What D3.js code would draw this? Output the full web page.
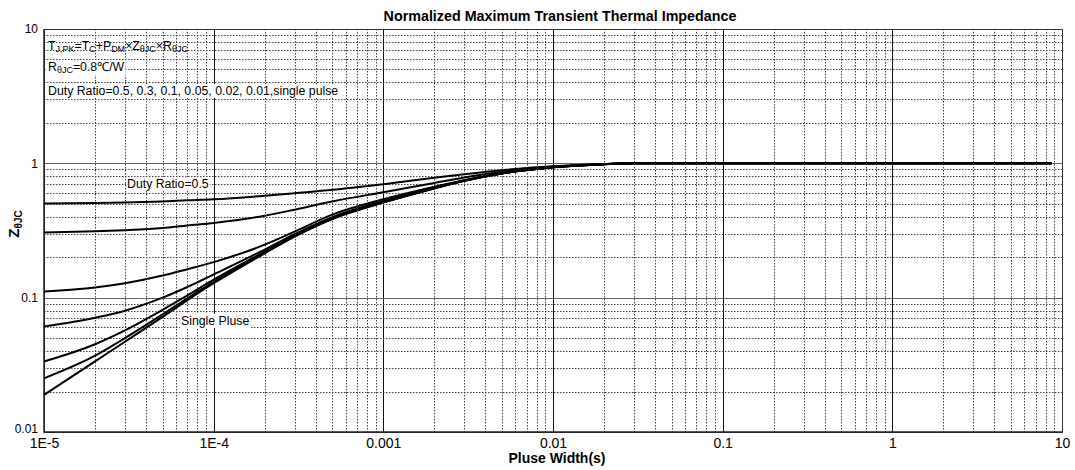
<!DOCTYPE html>
<html>
<head>
<meta charset="utf-8">
<script src="https://cdn.jsdelivr.net/npm/d3@7"></script>
<style>
  body { margin: 0; background: #fff; }
  text { font-family: "Liberation Sans", Arial, sans-serif; }
</style>
</head>
<body>
<svg id="chart" width="1075" height="470"></svg>
<script>
// pulse widths (s) where the curves were read
const widths = [1e-5, 2e-5, 3e-5, 5e-5, 7e-5, 1e-4, 2e-4, 3e-4, 5e-4, 1e-3, 2e-3, 3e-3, 5e-3, 1e-2, 2e-2, 3e-2, 1e-1, 1, 8.7];

// normalized Z values, one array per duty ratio
const duty05 = [0.503, 0.506, 0.51, 0.52, 0.53, 0.54, 0.574, 0.6, 0.635, 0.7, 0.78, 0.83, 0.89, 0.95, 0.988, 1, 1, 1, 1];
const duty03 = [0.306, 0.312, 0.318, 0.33, 0.345, 0.36, 0.407, 0.452, 0.52, 0.61, 0.715, 0.785, 0.865, 0.942, 0.987, 1, 1, 1, 1];
const duty01 = [0.111, 0.119, 0.128, 0.146, 0.163, 0.184, 0.248, 0.31, 0.415, 0.54, 0.67, 0.75, 0.845, 0.937, 0.986, 1, 1, 1, 1];
const duty005 = [0.061, 0.071, 0.08, 0.1, 0.12, 0.149, 0.228, 0.297, 0.398, 0.525, 0.66, 0.745, 0.842, 0.936, 0.986, 1, 1, 1, 1];
const duty002 = [0.0335, 0.045, 0.057, 0.081, 0.104, 0.136, 0.22, 0.29, 0.39, 0.515, 0.655, 0.742, 0.84, 0.935, 0.985, 1, 1, 1, 1];
const duty001 = [0.0251, 0.037, 0.05, 0.075, 0.099, 0.131, 0.217, 0.287, 0.387, 0.512, 0.652, 0.741, 0.84, 0.935, 0.985, 1, 1, 1, 1];
const single = [0.0189, 0.0336, 0.047, 0.072, 0.096, 0.128, 0.214, 0.285, 0.385, 0.51, 0.65, 0.74, 0.84, 0.935, 0.985, 1, 1, 1, 1];

const series = [duty05, duty03, duty01, duty005, duty002, duty001, single];

const xTickLabels = ["1E-5", "1E-4", "0.001", "0.01", "0.1", "1", "10"];
const yTickLabels = ["0.01", "0.1", "1", "10"];

const svg = d3.select("#chart");
const m = {left: 44, right: 1062, top: 29, bottom: 432};

const x = d3.scaleLog().domain([1e-5, 10]).range([m.left, m.right]);
const y = d3.scaleLog().domain([0.01, 10]).range([m.bottom, m.top]);

const isMajor = v => Math.abs(Math.log10(v) - Math.round(Math.log10(v))) < 1e-9;

// grid
const grid = svg.append("g");
x.ticks().forEach(v => {
    grid.append("line")
        .attr("x1", Math.round(x(v)) + 0.5).attr("x2", Math.round(x(v)) + 0.5)
        .attr("y1", m.top).attr("y2", m.bottom)
        .attr("stroke", isMajor(v) ? "#111" : "#444")
        .attr("stroke-width", 1)
        .attr("stroke-dasharray", isMajor(v) ? null : "1.5,1.5");
});
y.ticks().forEach(v => {
    grid.append("line")
        .attr("x1", m.left).attr("x2", m.right)
        .attr("y1", Math.round(y(v)) + 0.5).attr("y2", Math.round(y(v)) + 0.5)
        .attr("stroke", isMajor(v) ? "#666" : "#444")
        .attr("stroke-width", 1)
        .attr("stroke-dasharray", isMajor(v) ? null : "1.5,1.5");
});

// frame
svg.append("rect")
    .attr("x", m.left + 0.5).attr("y", m.top + 0.5)
    .attr("width", m.right - m.left).attr("height", m.bottom - m.top)
    .attr("fill", "none").attr("stroke", "#333").attr("stroke-width", 1);
svg.append("path")
    .attr("d", `M${m.left},${m.top}V${m.bottom}H${m.right}`)
    .attr("fill", "none").attr("stroke", "#222").attr("stroke-width", 1.5);

// curves
const line = d3.line()
    .x((d, i) => x(widths[i]))
    .y(d => y(d))
    .curve(d3.curveMonotoneX);

svg.append("g").selectAll("path")
    .data(series)
    .enter().append("path")
    .attr("d", line)
    .attr("fill", "none")
    .attr("stroke", "#000")
    .attr("stroke-width", 2);

// axes
const xAxis = d3.axisBottom(x)
    .tickValues([1e-5, 1e-4, 1e-3, 1e-2, 1e-1, 1, 10])
    .tickFormat((d, i) => xTickLabels[i])
    .tickSize(0).tickPadding(6);
const gx = svg.append("g").attr("transform", `translate(0,${m.bottom})`).call(xAxis);
gx.select(".domain").remove();
gx.selectAll("text").style("font-size", "14px").style("font-family", "Liberation Sans, Arial, sans-serif").attr("fill", "#000");

const yAxis = d3.axisLeft(y)
    .tickValues([0.01, 0.1, 1, 10])
    .tickFormat((d, i) => yTickLabels[i])
    .tickSize(0).tickPadding(6);
const gy = svg.append("g").attr("transform", `translate(${m.left},0)`).call(yAxis);
gy.select(".domain").remove();
gy.selectAll("text").style("font-size", "12px").style("font-family", "Liberation Sans, Arial, sans-serif").attr("fill", "#000");
// lift the bottom label so it clears the first x label
gy.selectAll("text").filter(d => d === 0.01).attr("y", -3);

// titles
svg.append("text")
    .attr("x", 560).attr("y", 21)
    .attr("text-anchor", "middle")
    .style("font-size", "14.3px").style("font-weight", "bold")
    .text("Normalized Maximum Transient Thermal Impedance");

svg.append("text")
    .attr("x", 557).attr("y", 463)
    .attr("text-anchor", "middle")
    .style("font-size", "14px").style("font-weight", "bold")
    .text("Pluse Width(s)");

const yl = svg.append("text")
    .attr("transform", "translate(19,224) rotate(-90)")
    .attr("text-anchor", "middle")
    .style("font-size", "15px").style("font-weight", "bold");
yl.append("tspan").text("Z");
yl.append("tspan").attr("dy", 3).style("font-size", "10px").text("θJC");

// annotations
function label(xp, yp, parts, bg) {
    const g = svg.append("g");
    const t = g.append("text").attr("x", xp).attr("y", yp).style("font-size", "12.3px");
    parts.forEach(p => {
        t.append("tspan")
            .attr("dy", p.sub ? 2 : (p.after ? -2 : 0))
            .style("font-size", p.sub ? "9px" : "12.3px")
            .text(p.t);
    });
    if (bg) {
        const b = t.node().getBBox();
        g.insert("rect", "text")
            .attr("x", b.x - 1).attr("y", b.y)
            .attr("width", b.width + 2).attr("height", b.height)
            .attr("fill", "#fff");
    }
}

label(48, 50, [
    {t: "T"}, {t: "J,PK", sub: true}, {t: "=T", after: true}, {t: "C", sub: true},
    {t: "+P", after: true}, {t: "DM", sub: true}, {t: "×Z", after: true}, {t: "θJC", sub: true},
    {t: "×R", after: true}, {t: "θJC", sub: true}
], false);
label(48, 71, [{t: "R"}, {t: "θJC", sub: true}, {t: "=0.8℃/W", after: true}], true);
label(48, 95, [{t: "Duty Ratio=0.5, 0.3, 0.1, 0.05, 0.02, 0.01,single pulse"}], true);
label(127, 188, [{t: "Duty Ratio=0.5"}], true);
label(181, 325, [{t: "Single Pluse"}], true);
</script>
</body>
</html>
